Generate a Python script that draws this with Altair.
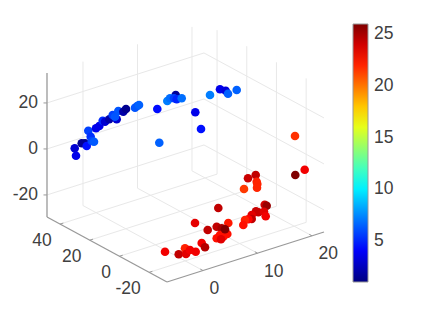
import altair as alt
import pandas as pd

# Projected positions and colour values
blue_u = [74.7,76,81.7,85,86.7,88.3,90.7,91.7,94,96,99.3,102.7,105,109.3,116.7,112.7,115,118.3,123.3,126,135,137.3,139,157.3,159.3,175.7,167.3,170,174,176.7,181.7,195.3,201,210,220,225.7,228,236.7]
blue_v = [148.3,155.7,143.3,143.3,146,130.7,136.7,141,141.7,128.3,126,120.7,121.7,119.3,119.3,115,116.7,111,111.7,109,107.7,106,105,109,142.7,95,101,98.3,98.3,99.3,98.3,112.3,129,95,89.3,90.7,93.7,90]
blue_c = [3,3.6,1.4,1.4,4.5,5.7,5.3,5.8,6.3,3.6,3.6,5.2,3,2,3,5.7,6.2,6.2,2,1.4,6.2,6.2,6.5,4.4,6.5,1.6,7.2,6.8,5.7,5,6.8,3.6,4.5,7.2,3.6,3.3,6.5,6.5]
red_u = [295,304.7,295.3,255.7,248,256.7,257.3,257,244,218.3,264.7,266.7,256,258.3,264,265.7,251.7,251.7,248.3,245,243.3,228.3,195,207.7,216.7,221.7,227.3,223.3,220,216.7,221,225,201.7,205,165,178.7,185,186,190,195.7]
red_v = [136,169.7,175,175,178.3,181.7,184,187.7,189,208,204.7,205.7,211.3,212.3,211.7,216.3,215,219,219.3,220,225,223,223,230,226.7,228.3,234,236.7,235,238.3,239.3,229.3,243,247.3,251.7,254.3,248.3,254,250,251.7]
red_c = [21.7,23.2,26,24.4,24.2,22.1,22,22,21.5,24.4,24,25.4,24.2,24.2,23.6,23.2,23.6,24.4,22.8,22.1,22.5,22.3,23.5,24.4,24.4,25,22.5,22.5,22.5,22.5,23.6,26,23.2,24.7,23.2,24.4,22.1,23.6,23.2,23.2]

x_ticks = [0, 10, 20]
y_ticks = [-20, 0, 20, 40]
z_ticks = [-20, 0, 20]
c_ticks = [5, 10, 15, 20, 25]
c_lim = [1, 26]
x_lim = (-6.6, 22.2)
y_lim = (-32.0, 48.8)
z_lim = (-29.6, 33.0)
jet = ["#000080","#0000ff","#0080ff","#00ffff","#80ff80","#ffff00","#ff8000","#ff0000","#800000"]

FONT = "Liberation Sans"
FS = 17.5
TEXT = "#404040"
GRID = "#e8e8e8"
AXIS = "#999999"

def P(x, y, z):
    return (155.44 + 5.451*x - 1.485*y, 176.73 - 1.736*x - 0.804*y - 2.3*z)

def seg(a, b):
    pa, pb = P(*a), P(*b)
    return {"u": pa[0], "v": pa[1], "u2": pb[0], "v2": pb[1]}

x0, x1 = x_lim; y0, y1 = y_lim; z0, z1 = z_lim

grid = []
for x in x_ticks:
    grid.append(seg((x, y0, z0), (x, y1, z0)))
    grid.append(seg((x, y1, z0), (x, y1, z1)))
for y in y_ticks:
    grid.append(seg((x0, y, z0), (x1, y, z0)))
    grid.append(seg((x1, y, z0), (x1, y, z1)))
for z in z_ticks:
    grid.append(seg((x0, y1, z), (x1, y1, z)))
    grid.append(seg((x1, y1, z), (x1, y0, z)))
axes = [seg((x0, y0, z0), (x1, y0, z0)), seg((x0, y0, z0), (x0, y1, z0)), seg((x0, y1, z0), (x0, y1, z1))]
ticks = []
for x in x_ticks:
    ticks.append(seg((x, y0, z0), (x, y0 + 1.8, z0)))
for y in y_ticks:
    ticks.append(seg((x0, y, z0), (x0 + 0.6, y, z0)))
for z in z_ticks:
    a = P(x0, y1, z)
    ticks.append({"u": a[0], "v": a[1], "u2": a[0] - 3.5, "v2": a[1]})

sx = alt.Scale(domain=[8, 415], nice=False, zero=False)
sy = alt.Scale(domain=[309, 8], nice=False, zero=False)
X = alt.X("u:Q", scale=sx, axis=None)
Y = alt.Y("v:Q", scale=sy, axis=None)

# Colour-bar tick marks follow the bar's own linear mapping
def bar_v(c):
    return 282 - 258 * (c - c_lim[0]) / (c_lim[1] - c_lim[0])
bar_ticks = [{"u": 364.5, "v": bar_v(c), "u2": 368, "v2": bar_v(c)} for c in c_ticks]

def rules(rows, color, width):
    return alt.Chart(pd.DataFrame(rows)).mark_rule(color=color, strokeWidth=width).encode(x=X, x2="u2:Q", y=Y, y2="v2:Q")

def labels(rows, align):
    return alt.Chart(pd.DataFrame(rows)).mark_text(font=FONT, fontSize=FS, color=TEXT, align=align, baseline="middle").encode(x=X, y=Y, text="t:N")

xl = [{"u": P(x, y0, z0)[0] + 6.5, "v": P(x, y0, z0)[1] + 18.5, "t": str(x)} for x in x_ticks]
yl = [{"u": P(x0, y, z0)[0] - 8.4, "v": P(x0, y, z0)[1] + 16.7, "t": str(y)} for y in y_ticks]
zl = [{"u": P(x0, y1, z)[0] - 9, "v": P(x0, y1, z)[1], "t": str(z)} for z in z_ticks]

pts = pd.DataFrame({"u": blue_u + red_u, "v": blue_v + red_v, "c": blue_c + red_c})
points = alt.Chart(pts).mark_circle(size=74, opacity=1).encode(
    x=X, y=Y,
    color=alt.Color("c:Q",
        scale=alt.Scale(domain=c_lim, range=jet, interpolate="rgb", nice=False, zero=False),
        legend=alt.Legend(orient="none", legendX=345, legendY=16, title=None, direction="vertical",
                          gradientLength=258, gradientThickness=15, values=c_ticks,
                          labelFont=FONT, labelFontSize=FS, labelColor=TEXT, labelOffset=6,
                          gradientStrokeColor=AXIS, gradientStrokeWidth=1)),
)

chart = alt.layer(
    rules(grid, GRID, 1),
    rules(axes, AXIS, 1.3),
    rules(ticks, AXIS, 1),
    rules(bar_ticks, "#777777", 0.8),
    labels(xl, "left"),
    labels(yl, "right"),
    labels(zl, "right"),
    points,
).properties(width=407, height=301, padding=0, autosize=alt.AutoSizeParams(type="none"), background="white").configure_view(stroke=None)

chart.save("out.html", embed_options={"renderer": "svg", "actions": False})
